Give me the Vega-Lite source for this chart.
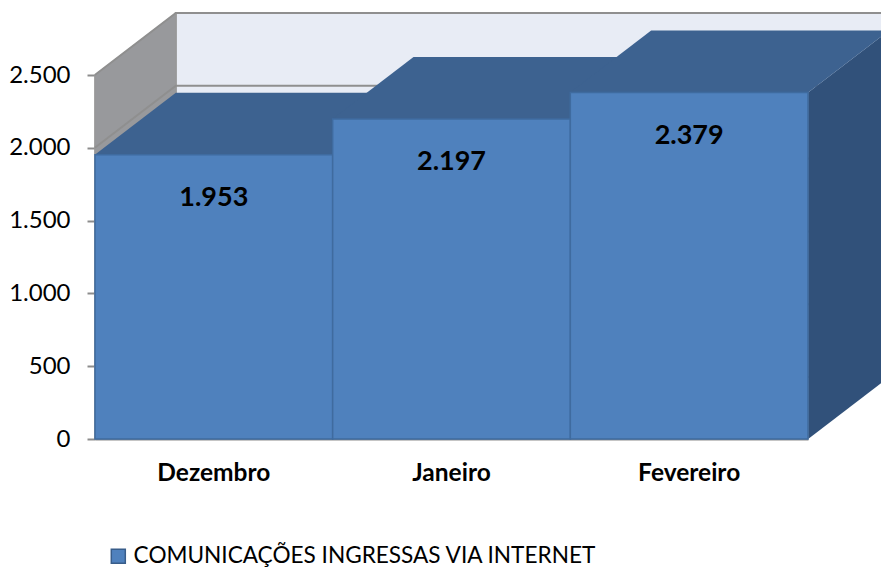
{
  "$schema": "https://vega.github.io/schema/vega-lite/v6.json",
  "width": 713,
  "height": 364,
  "autosize": {"type": "none"},
  "padding": {"left": 95, "top": 75, "right": 73, "bottom": 129},
  "background": "white",
  "config": {
    "view": {"stroke": null},
    "font": "Lato",
    "locale": {"number": {"decimal": ",", "thousands": ".", "grouping": [3], "currency": ["", ""]}}
  },
  "datasets": {
    "barras": [
      {"mes": "Dezembro", "valor": 1953, "serie": "COMUNICAÇÕES INGRESSAS VIA INTERNET"},
      {"mes": "Janeiro", "valor": 2197, "serie": "COMUNICAÇÕES INGRESSAS VIA INTERNET"},
      {"mes": "Fevereiro", "valor": 2379, "serie": "COMUNICAÇÕES INGRESSAS VIA INTERNET"}
    ],
    "grade": [
      {"mes": "Dezembro", "valor": 0},
      {"mes": "Dezembro", "valor": 500},
      {"mes": "Dezembro", "valor": 1000},
      {"mes": "Dezembro", "valor": 1500},
      {"mes": "Dezembro", "valor": 2000},
      {"mes": "Dezembro", "valor": 2500}
    ],
    "parede": [{"mes": "Dezembro", "valor": 2500}]
  },
  "encoding": {
    "x": {
      "field": "mes",
      "type": "nominal",
      "sort": ["Dezembro", "Janeiro", "Fevereiro"],
      "scale": {"type": "band", "paddingInner": 0, "paddingOuter": 0, "domain": ["Dezembro", "Janeiro", "Fevereiro"]},
      "axis": {
        "title": null,
        "labelAngle": 0,
        "labelFontWeight": "bold",
        "labelFontSize": 24.5,
        "labelColor": "#000000",
        "labelPadding": 22,
        "labelFont": "Lato",
        "ticks": false,
        "domainColor": "#8c8c8c",
        "domainWidth": 2,
        "grid": false,
        "zindex": 0
      }
    },
    "y": {
      "field": "valor",
      "type": "quantitative",
      "scale": {"domain": [0, 2500], "nice": false},
      "axis": {
        "title": null,
        "values": [0, 500, 1000, 1500, 2000, 2500],
        "format": ",d",
        "labelFontSize": 24,
        "labelColor": "#000000",
        "labelPadding": 17,
        "labelFont": "Lato",
        "tickSize": 8,
        "tickColor": "#8c8c8c",
        "tickWidth": 2,
        "domainColor": "#8c8c8c",
        "domainWidth": 2,
        "grid": false,
        "zindex": 0
      }
    }
  },
  "layer": [
    {
      "data": {"name": "parede"},
      "mark": {"type": "point", "filled": true, "opacity": 1, "size": 4, "fill": "#e8ecf5", "stroke": "#989898", "strokeWidth": 2, "shape": "M-38 -62 L800 -62 L800 302 L-38 302 Z"}
    },
    {
      "data": {"name": "parede"},
      "mark": {"type": "point", "filled": true, "opacity": 1, "size": 4, "fill": "#98999c", "stroke": "#989898", "strokeWidth": 1, "shape": "M-119 0 L-38 -62 L-38 302 L-119 364 Z"}
    },
    {
      "data": {"name": "grade"},
      "mark": {"type": "point", "filled": false, "opacity": 1, "size": 4, "stroke": "#8f8f8f", "strokeWidth": 2, "shape": "M-119 0 L-38 -62 L800 -62"}
    },
    {
      "data": {"name": "barras"},
      "transform": [{"filter": "datum.mes === 'Fevereiro'"}],
      "mark": {"type": "point", "filled": true, "opacity": 1, "size": 4, "fill": "#31517a", "strokeWidth": 0, "shape": "M119 0 L200 -62 L200 284.4 L119 346.4 Z"}
    },
    {
      "data": {"name": "barras"},
      "mark": {"type": "point", "filled": true, "opacity": 1, "size": 4, "fill": "#3d6290", "strokeWidth": 0, "shape": "M-119 0 L-38 -62 L200 -62 L119 0 Z"}
    },
    {
      "data": {"name": "barras"},
      "mark": {"type": "bar", "stroke": "#3f6b9f", "strokeWidth": 1.5},
      "encoding": {
        "y2": {"datum": 0},
        "color": {
          "field": "serie",
          "type": "nominal",
          "scale": {"range": ["#4f81bd"]},
          "legend": {
            "title": null,
            "orient": "none",
            "legendX": 12,
            "legendY": 470,
            "symbolType": "square",
            "symbolSize": 196,
            "symbolStrokeColor": "#385d8a",
            "symbolStrokeWidth": 1.5,
            "labelFontSize": 22.6,
            "labelColor": "#000000",
            "labelFont": "Lato",
            "labelLimit": 700,
            "labelOffset": 4,
            "padding": 0
          }
        }
      }
    },
    {
      "data": {"name": "barras"},
      "mark": {"type": "text", "fontWeight": "bold", "fontSize": 27, "color": "#000000", "dy": 43, "baseline": "middle", "font": "Lato"},
      "encoding": {"text": {"field": "valor", "type": "quantitative", "format": ",d"}}
    }
  ]
}
